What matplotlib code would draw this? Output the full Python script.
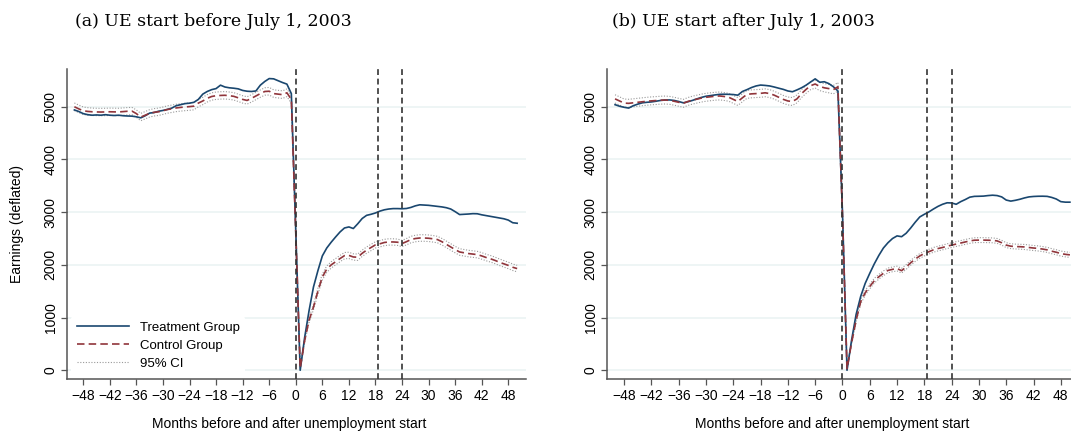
import numpy as np
import matplotlib
matplotlib.use("Agg")
import matplotlib.pyplot as plt

plt.rcParams['font.family'] = ['Liberation Sans', 'DejaVu Sans']

# months relative to unemployment start
months = list(range(-50, 51))

# (a) UE start before July 1, 2003
treat_a = [4940, 4910, 4870, 4850, 4840, 4845, 4840, 4850, 4840, 4835,
           4840, 4830, 4825, 4822, 4810, 4790, 4830, 4880, 4890, 4915,
           4930, 4950, 4975, 5020, 5040, 5060, 5068, 5085, 5140, 5240,
           5290, 5325, 5345, 5410, 5375, 5360, 5352, 5340, 5310, 5295,
           5290, 5300, 5410, 5480, 5535, 5530, 5495, 5460, 5430, 5250,
           2650, 0, 620, 1130, 1580, 1890, 2170, 2320, 2430, 2530,
           2625, 2700, 2720, 2690, 2780, 2880, 2940, 2960, 2985, 3020,
           3045, 3060, 3068, 3068, 3065, 3070, 3090, 3120, 3140, 3135,
           3130, 3120, 3110, 3100, 3085, 3060, 3010, 2955, 2960, 2965,
           2972, 2970, 2950, 2935, 2920, 2905, 2890, 2875, 2850, 2800,
           2790]
ctrl_a = [5000, 4960, 4925, 4912, 4905, 4902, 4900, 4902, 4905, 4903,
          4902, 4908, 4915, 4918, 4870, 4805, 4840, 4875, 4895, 4905,
          4925, 4948, 4962, 4978, 4988, 4996, 5003, 5012, 5070, 5110,
          5160, 5195, 5210, 5215, 5218, 5210, 5198, 5170, 5140, 5120,
          5160, 5205, 5250, 5290, 5295, 5250, 5240, 5230, 5265, 5140,
          2600, 40, 560, 950, 1200, 1500, 1770, 1920, 2000, 2060,
          2120, 2175, 2180, 2150, 2145, 2220, 2280, 2330, 2380, 2400,
          2425, 2435, 2435, 2430, 2405, 2440, 2480, 2500, 2510, 2510,
          2505, 2495, 2480, 2440, 2390, 2340, 2290, 2245, 2230, 2215,
          2205, 2195, 2170, 2140, 2115, 2085, 2050, 2020, 1990, 1955,
          1930]
ci_a = [72, 72, 71, 71, 70, 70, 70, 70, 70, 70,
        70, 70, 70, 70, 70, 70, 70, 70, 70, 70,
        70, 70, 70, 70, 70, 70, 70, 70, 70, 70,
        70, 70, 70, 70, 70, 70, 70, 70, 70, 70,
        70, 70, 70, 70, 72, 72, 72, 72, 72, 72,
        40, 20, 35, 45, 50, 55, 58, 60, 60, 60,
        60, 60, 60, 60, 60, 60, 60, 60, 60, 60,
        60, 60, 60, 60, 60, 60, 62, 62, 62, 62,
        62, 62, 62, 62, 62, 62, 62, 62, 62, 62,
        62, 62, 62, 62, 62, 62, 62, 62, 62, 62,
        62]

# (b) UE start after July 1, 2003
treat_b = [5040, 5010, 4990, 4975, 5020, 5050, 5075, 5085, 5092, 5105,
           5120, 5128, 5130, 5120, 5100, 5075, 5095, 5120, 5150, 5178,
           5200, 5212, 5225, 5236, 5238, 5236, 5232, 5220, 5290, 5325,
           5365, 5395, 5412, 5405, 5395, 5375, 5352, 5330, 5300, 5285,
           5320, 5360, 5410, 5470, 5530, 5465, 5475, 5440, 5380, 5300,
           3000, 0, 570, 1060, 1400, 1650, 1840, 2020, 2180, 2320,
           2420, 2500, 2550, 2535, 2600, 2700, 2810, 2910, 2960, 3005,
           3060, 3110, 3150, 3178, 3175, 3150, 3200, 3240, 3285, 3300,
           3302, 3305, 3315, 3322, 3315, 3290, 3230, 3210, 3225, 3245,
           3270, 3290, 3298, 3302, 3303, 3300, 3280, 3250, 3200, 3190,
           3190]
ctrl_b = [5150, 5110, 5070, 5065, 5075, 5085, 5095, 5105, 5112, 5118,
          5125, 5128, 5122, 5105, 5085, 5065, 5100, 5125, 5145, 5165,
          5180, 5190, 5200, 5205, 5195, 5180, 5140, 5100, 5170, 5235,
          5245, 5250, 5255, 5265, 5250, 5220, 5180, 5140, 5110, 5100,
          5150, 5250, 5330, 5400, 5432, 5385, 5360, 5345, 5325, 5380,
          2950, 30, 520, 950, 1300, 1470, 1590, 1700, 1775, 1840,
          1895, 1915, 1930, 1890, 1960, 2040, 2110, 2170, 2215, 2250,
          2285, 2310, 2330, 2355, 2375, 2395, 2415, 2435, 2455, 2468,
          2470, 2470, 2468, 2465, 2455, 2420, 2375, 2355, 2348, 2345,
          2340, 2330, 2320, 2312, 2300, 2285, 2260, 2240, 2215, 2200,
          2190]
ci_b = [78, 78, 77, 77, 76, 76, 75, 75, 75, 75,
        75, 75, 75, 75, 75, 75, 75, 75, 75, 75,
        75, 75, 75, 75, 75, 75, 75, 75, 75, 75,
        75, 75, 75, 75, 75, 75, 75, 75, 75, 75,
        75, 75, 75, 75, 78, 78, 78, 80, 80, 80,
        40, 20, 30, 38, 42, 45, 45, 45, 45, 45,
        45, 45, 45, 45, 45, 45, 45, 45, 45, 45,
        45, 45, 45, 45, 45, 45, 46, 46, 46, 46,
        46, 46, 46, 46, 46, 46, 46, 46, 46, 46,
        48, 48, 48, 48, 48, 48, 48, 48, 48, 48,
        48]

vlines = [0, 18.5, 24]
xticks = list(range(-48, 49, 6))
yticks = [0, 1000, 2000, 3000, 4000, 5000]

navy = '#1a476f'
maroon = '#90353b'
W, H = 1071, 433

fig = plt.figure(figsize=(W / 100, H / 100), dpi=100)
ax_a = fig.add_axes([67.3 / W, 1 - 379.3 / H, 458.7 / W, 310 / H])
ax_b = fig.add_axes([607.3 / W, 1 - 379.3 / H, 471.7 / W, 310 / H])


def draw(ax, treat, ctrl, ci, xlab_pos):
    x = np.array(months)
    c = np.array(ctrl)
    h = np.array(ci)
    for yv in yticks:
        ax.axhline(yv, color='#eaf2f3', lw=1.1, zorder=0)
    ax.plot(x, c - h, color='#9a9a9a', lw=0.8, ls=(0, (1, 1.5)), zorder=2)
    ax.plot(x, c + h, color='#9a9a9a', lw=0.8, ls=(0, (1, 1.5)), zorder=2)
    ax.plot(x, treat, color=navy, lw=1.2, zorder=3, label='Treatment Group')
    ax.plot(x, ctrl, color=maroon, lw=1.2, ls=(0, (4.5, 2.5)), zorder=3, label='Control Group')
    ax.plot([], [], color='#9a9a9a', lw=0.8, ls=(0, (1, 1.5)), label='95% CI')
    for v in vlines:
        ax.axvline(v, color='#333333', lw=1.2, ls=(0, (3.5, 2.2)), zorder=4)
    ax.set_xlim(-51.6, 52)
    ax.set_ylim(-171, 5711)
    ax.set_xticks(xticks)
    ax.set_xticklabels([str(t).replace('-', '\u2212') for t in xticks])
    ax.set_yticks(yticks)
    ax.set_yticklabels([str(t) for t in yticks], rotation=90, va='center')
    for s in ['top', 'right']:
        ax.spines[s].set_visible(False)
    for s in ['left', 'bottom']:
        ax.spines[s].set_color('#555555')
        ax.spines[s].set_linewidth(1.1)
    ax.tick_params(axis='both', direction='out', length=4, width=0.9,
                   color='#555555', labelsize=10, pad=3)
    ax.set_xlabel('Months before and after unemployment start', fontsize=10)
    ax.xaxis.set_label_coords(xlab_pos, -0.145)
    ax.xaxis.label.set_va('center')


draw(ax_a, treat_a, ctrl_a, ci_a, 0.483)
draw(ax_b, treat_b, ctrl_b, ci_b, 0.476)
ax_b.set_xlim(-51.7, 52)

ax_a.set_ylabel('Earnings (deflated)', fontsize=10)
ax_a.yaxis.set_label_coords(-(67.3 - 24) / 458.7, 0.5)

leg = ax_a.legend(loc='lower left', bbox_to_anchor=(0.0, 0.0), fontsize=9.5,
                  frameon=True, facecolor='white', edgecolor='none', framealpha=1,
                  handlelength=4.0, handletextpad=0.8, labelspacing=0.45,
                  borderaxespad=0.3, borderpad=0.4)
leg.set_zorder(5)

fig.text(75 / W, 1 - 22 / H, '(a) UE start before July 1, 2003', family='DejaVu Serif',
         fontsize=12.5, va='center', ha='left')
fig.text(612 / W, 1 - 22 / H, '(b) UE start after July 1, 2003', family='DejaVu Serif',
         fontsize=12.5, va='center', ha='left')

fig.savefig('out.png', dpi=100)
